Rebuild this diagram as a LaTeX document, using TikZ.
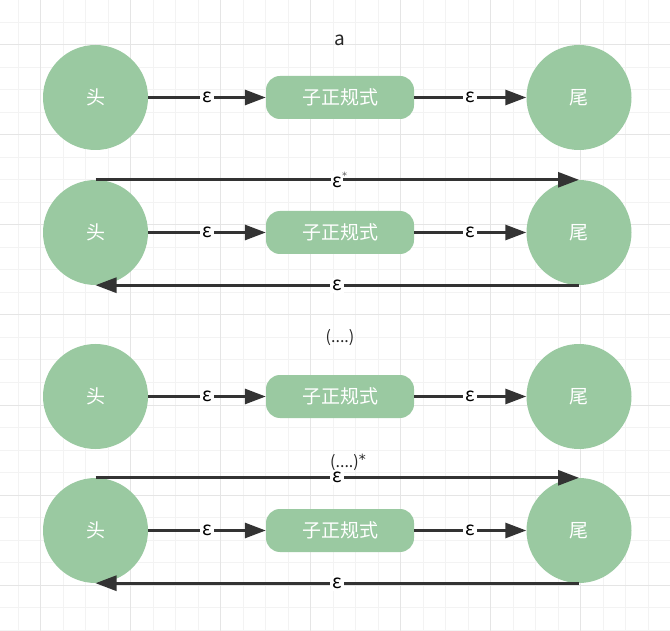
\documentclass[tikz,border=0pt]{standalone}
\usepackage{fontspec}
\setmainfont{Noto Sans CJK SC}
\newfontfamily\astfont{DejaVu Sans}
\usetikzlibrary{arrows.meta}
\definecolor{gr}{RGB}{154,201,161}
\definecolor{ln}{RGB}{51,51,51}
\definecolor{gminor}{RGB}{243,243,243}
\definecolor{gmajor}{RGB}{229,229,229}
\tikzset{
  state/.style={circle, fill=gr, minimum size=105pt, inner sep=0pt, text=white, font=\fontsize{19}{20}\selectfont},
  subre/.style={rectangle, rounded corners=14pt, fill=gr, minimum width=148pt, minimum height=43pt, inner sep=0pt, text=white, font=\fontsize{19}{20}\selectfont},
  arr/.style={line width=2.9pt, draw=ln, -{Triangle[length=21pt,width=15pt]}},
  elab/.style={fill=white, inner sep=2pt, text=black, font=\fontsize{19}{20}\selectfont},
  captxt/.style={text=black!85, font=\fontsize{16}{18}\selectfont}
}
\begin{document}
\begin{tikzpicture}[x=1pt,y=-1pt]
\useasboundingbox (0,0) rectangle (670,631);
\begin{scope}
\clip (0,0) rectangle (670,631);
\fill[white] (0,0) rectangle (670,631);
\foreach \i in {0,...,29} \draw[gminor, line width=1pt] ({18.2+22.5*\i},0) -- ({18.2+22.5*\i},631);
\foreach \i in {0,...,28} \draw[gminor, line width=1pt] (0,{22.5*\i}) -- (670,{22.5*\i});
\foreach \i in {0,...,7} \draw[gmajor, line width=1pt] ({40.7+90*\i},0) -- ({40.7+90*\i},631);
\foreach \i in {0,...,6} \draw[gmajor, line width=1pt] (0,{45+90*\i}) -- (670,{45+90*\i});
\end{scope}

% row 1
\node[captxt, font=\fontsize{19}{20}\selectfont] (ca) at (340,40) {a};
\node[state] (h1) at (95.5,97.5) {头};
\node[subre] (s1) at (340,97.5) {子正规式};
\node[state] (t1) at (579,97.5) {尾};
\draw[arr] (h1) -- node[elab] {ε} (s1);
\draw[arr] (s1) -- node[elab] {ε} (t1);

% row 2
\node[state] (h2) at (95.5,232.5) {头};
\node[subre] (s2) at (340,232.5) {子正规式};
\node[state] (t2) at (579,232.5) {尾};
\draw[arr] (h2) -- node[elab] {ε} (s2);
\draw[arr] (s2) -- node[elab] {ε} (t2);
\draw[arr] (h2.north) -- node[elab, inner sep=1pt] {ε\rlap{\raisebox{8pt}{\textcolor{black!65}{\astfont\fontsize{10}{10}\selectfont *}}}} (t2.north);
\draw[arr] (t2.south) -- node[elab] {ε} (h2.south);

% row 3
\node[captxt] (cb) at (340,338) {(....)};
\node[state] (h3) at (95.5,396.5) {头};
\node[subre] (s3) at (340,396.5) {子正规式};
\node[state] (t3) at (579,396.5) {尾};
\draw[arr] (h3) -- node[elab] {ε} (s3);
\draw[arr] (s3) -- node[elab] {ε} (t3);

% row 4
\node[captxt] (cc) at (348,462) {(....)\raisebox{3pt}{\astfont\fontsize{14}{14}\selectfont *}};
\node[state] (h4) at (95.5,530.5) {头};
\node[subre] (s4) at (340,530.5) {子正规式};
\node[state] (t4) at (579,530.5) {尾};
\draw[arr] (h4) -- node[elab] {ε} (s4);
\draw[arr] (s4) -- node[elab] {ε} (t4);
\draw[arr] (h4.north) -- node[elab] {ε} (t4.north);
\draw[arr] (t4.south) -- node[elab] {ε} (h4.south);
\end{tikzpicture}
\end{document}
